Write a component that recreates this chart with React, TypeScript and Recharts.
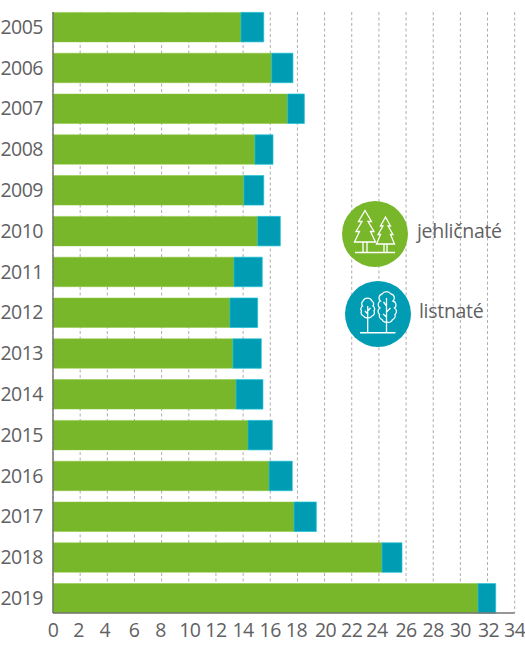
import { Bar, BarChart, CartesianGrid, Legend, XAxis, YAxis } from "recharts";

const years = ["2005", "2006", "2007", "2008", "2009", "2010", "2011", "2012", "2013", "2014", "2015", "2016", "2017", "2018", "2019"];
const conifers = [13.84, 16.1, 17.28, 14.87, 14.06, 15.07, 13.33, 13.03, 13.25, 13.48, 14.36, 15.91, 17.75, 24.23, 31.3];
const broadleaves = [1.68, 1.57, 1.23, 1.33, 1.46, 1.67, 2.08, 2.04, 2.09, 1.98, 1.79, 1.71, 1.64, 1.47, 1.3];
const xTicks = [0, 2, 4, 6, 8, 10, 12, 14, 16, 18, 20, 22, 24, 26, 28, 30, 32, 34];

const data = years.map((year, i) => ({ year, conifers: conifers[i], broadleaves: broadleaves[i] }));

const GREEN = "#78b729";
const BLUE = "#009cb4";
const TEXT = "#616163";
const FONT = "'Open Sans', sans-serif";

// the source's tick labels are hand placed, not quite on the gridlines
const tickNudge: Record<number, number> = { 2: -1.5, 4: -2.5, 6: -0.5, 8: -1, 10: 1, 18: -1, 20: 1, 24: -2, 32: 1 };

function XTick({ x, y, payload }: any) {
    return (
        <text x={x + (tickNudge[payload.value] || 0)} y={y + 16} textAnchor="middle" fontSize={19.5} letterSpacing={-0.5} fontFamily={FONT} fill={TEXT}>
            {payload.value}
        </text>
    );
}

function ConiferIcon() {
    return (
        <svg width={68} height={68} viewBox="-34 -34 68 68" style={{ display: "block" }}>
            <circle r={33} fill={GREEN} />
            <g fill="none" stroke="#fff" strokeWidth={1.3}>
                <path d="M-10 -23.5L-16.5 -12.5L-13 -12.5L-19 -2.5L-15.5 -2.5L-20.5 8L0.5 8L-4.5 -2.5L-1 -2.5L-7 -12.5L-3.5 -12.5Z" />
                <path d="M10.5 -17L5.5 -8L8 -8L3 0.5L5.5 0.5L1.5 10L19.5 10L15.5 0.5L18 0.5L13 -8L15.5 -8Z" />
                <path d="M-12 8V18M-8 8V18M9 10V18M12 10V18" />
                <path d="M-20 18.5H20" strokeWidth={1.6} />
            </g>
        </svg>
    );
}

function BroadleafIcon() {
    return (
        <svg width={68} height={68} viewBox="-34 -34 68 68" style={{ display: "block" }}>
            <circle r={33} fill={BLUE} />
            <g fill="none" stroke="#fff" strokeWidth={1.3}>
                <path d="M-10.3 3.5A3.5 3.5 0 0 1 -14.5 2A3.5 3.5 0 0 1 -16.5 -3A3.5 3.5 0 0 1 -15.5 -8A3.5 3.5 0 0 1 -15 -13A5 5 0 0 1 -6 -13A3.5 3.5 0 0 1 -5 -8A3.5 3.5 0 0 1 -4 -3A3.5 3.5 0 0 1 -6 2A3.5 3.5 0 0 1 -10.3 3.5Z" />
                <path d="M9 8A4 4 0 0 1 4 5.5A4 4 0 0 1 1.5 0.5A4 4 0 0 1 2 -6A4 4 0 0 1 2.5 -13A4 4 0 0 1 4 -20A5.5 5.5 0 0 1 13 -20A4 4 0 0 1 15 -13A4 4 0 0 1 16.5 -6A4 4 0 0 1 17 0.5A4 4 0 0 1 14.5 5.5A4 4 0 0 1 9 8Z" />
                <path d="M-10.3 -8V18.5M-10.3 -3L-7.5 -6M-10.3 0L-13 -3M8.5 -16V18.5M8.5 -8L5.5 -12M8.5 -2L12.5 -6M8.5 3L5 0" />
                <path d="M-18 18.7H17.5" strokeWidth={1.6} />
            </g>
        </svg>
    );
}

// legend sits over the plot, icon and label pairs as in the source
function TreeLegend() {
    const label = { position: "absolute", fontFamily: FONT, fontSize: 19.5, letterSpacing: -0.3, color: TEXT, lineHeight: "24px", whiteSpace: "nowrap" } as const;
    return (
        <div style={{ position: "relative", width: 184, height: 150 }}>
            <div style={{ position: "absolute", left: 0, top: 0 }}><ConiferIcon /></div>
            <div style={{ ...label, left: 76, top: 19 }}>jehličnaté</div>
            <div style={{ position: "absolute", left: 3, top: 80 }}><BroadleafIcon /></div>
            <div style={{ ...label, left: 78, top: 99 }}>listnaté</div>
        </div>
    );
}

export default function App() {
    return (
        <div style={{ position: "absolute", left: 0, top: 0, width: 525, height: 650, background: "#fff" }}>
            <BarChart
                width={525}
                height={650}
                data={data}
                layout="vertical"
                barSize={29.5}
                margin={{ top: 12, right: 10.3, bottom: 0, left: 0 }}
            >
                <CartesianGrid vertical horizontal={false} stroke="#adadad" strokeDasharray="3 2.5" />
                <XAxis
                    type="number"
                    domain={[0, 34]}
                    ticks={xTicks}
                    interval={0}
                    height={37}
                    tick={<XTick />}
                    tickLine={false}
                    axisLine={{ stroke: "#757575", strokeWidth: 1.5 }}
                />
                <YAxis
                    type="category"
                    dataKey="year"
                    width={53}
                    interval={0}
                    padding={{ top: -5.6, bottom: -5.4 } as any}
                    tickLine={false}
                    tickMargin={4}
                    axisLine={{ stroke: "#757575", strokeWidth: 1.5 }}
                    tick={{ fontSize: 19.5, letterSpacing: -0.5, fontFamily: FONT, fill: TEXT }}
                />
                <Bar dataKey="conifers" stackId="a" fill={GREEN} stroke="#8cc63f" strokeWidth={0.5} isAnimationActive={false} />
                <Bar dataKey="broadleaves" stackId="a" fill={BLUE} stroke="#1cc0d6" strokeWidth={0.7} isAnimationActive={false} />
                <Legend
                    content={<TreeLegend />}
                    layout="vertical"
                    align="center"
                    verticalAlign="middle"
                    wrapperStyle={{ left: 341, top: 200, width: 184 }}
                />
            </BarChart>
        </div>
    );
}
